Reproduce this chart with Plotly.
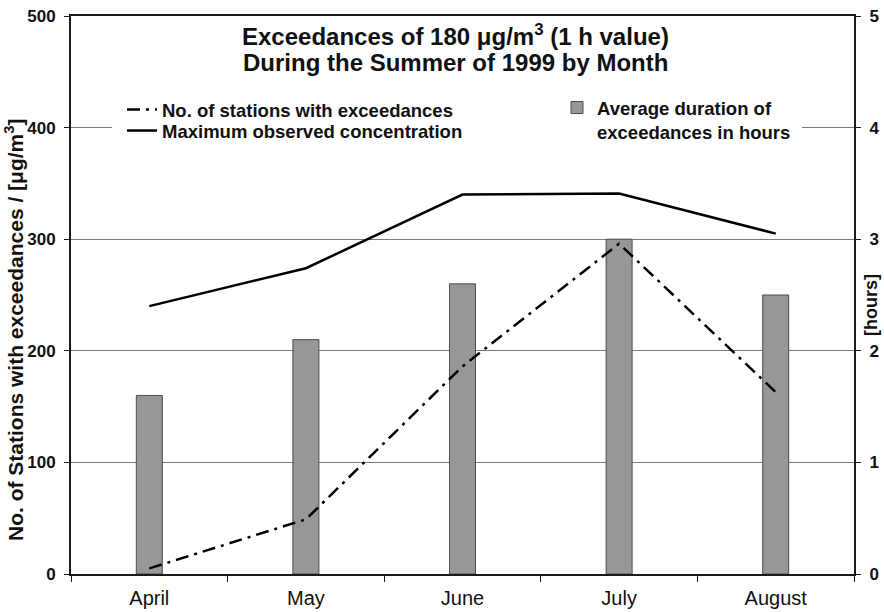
import plotly.graph_objects as go

months = ["April", "May", "June", "July", "August"]
stations = [5, 49, 186, 296, 163]          # No. of stations with exceedances (left axis)
max_conc = [240, 274, 340, 341, 305]       # Maximum observed concentration (left axis)
duration = [1.6, 2.1, 2.6, 3.0, 2.5]       # Average duration in hours (right axis)

FONT = "Liberation Sans, Arial, Helvetica, sans-serif"
L, R, T, B = 71, 30, 16, 38
W, H = 884, 612
PW, PH = W - L - R, H - T - B

def px_x(p):
    return (p - L) / PW

def px_y(p):
    return (H - B - p) / PH

# pixel -> data helpers for the legend cover rectangle (x category index, y hours)
def cat_x(p):
    return (p - L) / PW * 5 - 0.5

def hours_y(p):
    return (H - B - p) / PH * 5

fig = go.Figure()

fig.add_trace(go.Bar(
    x=months, y=duration, name="Average duration of<br>exceedances in hours",
    marker=dict(color="#979797", line=dict(color="#4d4d4d", width=1)),
    width=0.166, yaxis="y", legend="legend2",
))
fig.add_trace(go.Scatter(
    x=months, y=stations, name="No. of stations with exceedances",
    mode="lines", line=dict(color="black", width=2.5, dash="13px,6px,3px,6px"),
    yaxis="y2", legend="legend",
))
fig.add_trace(go.Scatter(
    x=months, y=max_conc, name="Maximum observed concentration",
    mode="lines", line=dict(color="black", width=2.5),
    yaxis="y2", legend="legend3",
))

axis_common = dict(showline=True, linecolor="#1a1a1a", linewidth=2, ticks="outside",
                   tickcolor="#1a1a1a", tickwidth=1, automargin=False)

legend_font = dict(size=18.5, family=FONT, weight="bold")

fig.update_layout(
    template="none",
    width=W, height=H,
    margin=dict(l=L, r=R, t=T, b=B, pad=0),
    paper_bgcolor="white", plot_bgcolor="white",
    font=dict(family=FONT, color="#111111"),
    xaxis=dict(type="category", tickson="boundaries", mirror=True, showgrid=False,
               tickfont=dict(size=20, family=FONT), ticklabelstandoff=5,
               range=[-0.5, 4.5], ticklen=6, **axis_common),
    yaxis=dict(side="right", range=[0, 5], dtick=1, showgrid=True, gridcolor="#7a7a7a", gridwidth=1,
               zeroline=False, tickfont=dict(size=17, family=FONT, weight="bold"),
               ticklabelstandoff=5, ticklen=5, **axis_common),
    yaxis2=dict(side="left", overlaying="y", anchor="x", range=[0, 500], dtick=100, showgrid=False,
                zeroline=False, tickfont=dict(size=17, family=FONT, weight="bold"),
                ticklabelstandoff=5, ticklen=5, **axis_common),
    legend=dict(x=px_x(122), y=px_y(91), xanchor="left", yanchor="top", bgcolor="rgba(0,0,0,0)",
                font=legend_font, itemwidth=30, borderwidth=0),
    legend3=dict(x=px_x(122), y=px_y(112), xanchor="left", yanchor="top", bgcolor="rgba(0,0,0,0)",
                 font=legend_font, itemwidth=30, borderwidth=0),
    legend2=dict(x=px_x(557), y=px_y(89), xanchor="left", yanchor="top", bgcolor="rgba(0,0,0,0)",
                 font=legend_font, valign="top", itemwidth=30, borderwidth=0),
    shapes=[dict(type="rect", xref="x", yref="y", layer="between",
                 x0=cat_x(112), x1=cat_x(802), y0=hours_y(146), y1=hours_y(90),
                 fillcolor="white", line=dict(width=0))],
    annotations=[
        dict(text="Exceedances of 180 μg/m<sup>3</sup> (1 h value)", xref="paper", yref="paper",
             x=px_x(455), y=px_y(35), showarrow=False, xanchor="center", yanchor="middle",
             font=dict(size=24, family=FONT, weight="bold")),
        dict(text="During the Summer of 1999 by Month", xref="paper", yref="paper",
             x=px_x(455), y=px_y(62), showarrow=False, xanchor="center", yanchor="middle",
             font=dict(size=24, family=FONT, weight="bold")),
        dict(text="No. of Stations with exceedances / [μg/m<sup>3</sup>]", xref="paper", yref="paper",
             x=px_x(14), y=px_y(330), showarrow=False, textangle=-90, xanchor="center", yanchor="middle",
             font=dict(size=21, family=FONT, weight="bold")),
        dict(text="[hours]", xref="paper", yref="paper",
             x=px_x(871), y=px_y(305), showarrow=False, textangle=-90, xanchor="center", yanchor="middle",
             font=dict(size=18, family=FONT, weight="bold")),
    ],
    showlegend=True,
)

fig.write_html("out.html")
